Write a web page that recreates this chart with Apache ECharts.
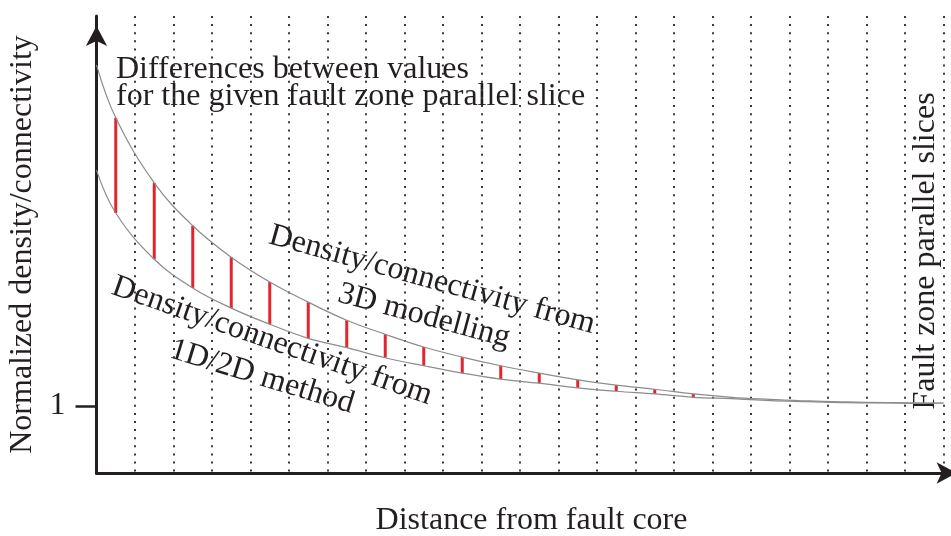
<!DOCTYPE html>
<html>
<head>
<meta charset="utf-8">
<title>Density/connectivity vs distance from fault core</title>
<script src="https://cdn.jsdelivr.net/npm/echarts@6.0.0/dist/echarts.min.js"></script>
<style>
  html, body { margin: 0; padding: 0; background: #fff; }
  #main { width: 951px; height: 536px; }
</style>
</head>
<body>
<div id="main"></div>
<script>
// distance from the fault core, in slice widths (red bars sit in the middle of each slice)
var distance = [0, 0.5, 1.5, 2.5, 3.5, 4.5, 5.5, 6.5, 7.5, 8.5, 9.5, 10.5,
  11.5, 12.5, 13.5, 14.5, 15.5, 16.5, 17.5, 18.5, 19.5, 20.5, 21.5, 22]
// normalized density/connectivity from 3D modelling
var density3D = [6.09, 5.30, 4.33, 3.69, 3.22, 2.85, 2.55, 2.28, 2.07, 1.88, 1.73, 1.60,
  1.49, 1.39, 1.31, 1.25, 1.18, 1.13, 1.10, 1.075, 1.06, 1.05, 1.045, 1.045]
// normalized density/connectivity from the 1D/2D method
var density1D2D = [4.52, 3.88, 3.19, 2.76, 2.46, 2.22, 2.01, 1.87, 1.72, 1.60, 1.49, 1.40,
  1.34, 1.27, 1.22, 1.18, 1.13, 1.11, 1.08, 1.065, 1.05, 1.045, 1.04, 1.045]
var yTickValues = [1]

var ink = "#231f20"
var serif = "Liberation Serif"

var gaps = []
for (var i = 0; i < distance.length; i++) {
  if (distance[i] % 1 !== 0) {
    gaps.push([distance[i], density1D2D[i], density3D[i]])
  }
}

var chartDom = document.getElementById("main")
var myChart = echarts.init(chartDom)
var option

option = {
  animation: false,
  grid: {
    left: 96.5,
    right: -15.6,
    top: 16,
    bottom: 63,
    outerBoundsMode: "none"
  },
  xAxis: {
    type: "value",
    min: 0,
    max: 22.6,
    interval: 1,
    name: "Distance from fault core",
    nameLocation: "middle",
    nameGap: 32,
    nameTextStyle: { fontFamily: serif, fontSize: 32, color: ink },
    axisLine: {
      onZero: false,
      symbol: ["none", "arrow"],
      symbolSize: [16, 20],
      symbolOffset: [0, -10],
      lineStyle: { color: ink, width: 3 }
    },
    axisTick: { show: false },
    axisLabel: { show: false },
    splitLine: {
      show: true,
      showMinLine: false,
      showMaxLine: false,
      lineStyle: { color: "#3a3a3a", width: 2, type: [2, 6.1] }
    }
  },
  yAxis: {
    type: "value",
    min: 0,
    max: 6.82,
    name: "Normalized density/connectivity",
    nameLocation: "middle",
    nameGap: 58,
    nameTextStyle: { fontFamily: serif, fontSize: 32, color: ink },
    axisLine: {
      show: true,
      onZero: false,
      symbol: ["none", "arrow"],
      symbolSize: [16, 20],
      symbolOffset: [0, -10],
      lineStyle: { color: ink, width: 3 }
    },
    axisTick: {
      show: true,
      customValues: yTickValues,
      length: 21,
      lineStyle: { color: ink, width: 2.5 }
    },
    axisLabel: {
      customValues: yTickValues,
      margin: 31,
      fontFamily: serif,
      fontSize: 32,
      color: ink
    },
    splitLine: { show: false }
  },
  graphic: [
    {
      type: "text",
      left: 116,
      top: 54,
      style: {
        text: "Differences between values\nfor the given fault zone parallel slice",
        font: "32px " + serif,
        lineHeight: 27,
        fill: ink
      }
    },
    {
      type: "text",
      x: 432, y: 280, rotation: -15.5 * Math.PI / 180,
      style: { text: "Density/connectivity from", font: "32px " + serif, fill: ink, align: "center", verticalAlign: "middle" }
    },
    {
      type: "text",
      x: 424, y: 316, rotation: -15 * Math.PI / 180,
      style: { text: "3D modelling", font: "32px " + serif, fill: ink, align: "center", verticalAlign: "middle" }
    },
    {
      type: "text",
      x: 272, y: 341, rotation: -19.2 * Math.PI / 180,
      style: { text: "Density/connectivity from", font: "32px " + serif, fill: ink, align: "center", verticalAlign: "middle" }
    },
    {
      type: "text",
      x: 262, y: 377, rotation: -17 * Math.PI / 180,
      style: { text: "1D/2D method", font: "32px " + serif, fill: ink, align: "center", verticalAlign: "middle" }
    },
    {
      type: "text",
      x: 926, y: 251, rotation: Math.PI / 2,
      style: { text: "Fault zone parallel slices", font: "32px " + serif, fill: ink, align: "center", verticalAlign: "middle" }
    }
  ],
  series: [
    {
      name: "Differences",
      type: "custom",
      data: gaps,
      z: 2,
      renderItem: function (params, api) {
        var p1 = api.coord([api.value(0), api.value(1)])
        var p2 = api.coord([api.value(0), api.value(2)])
        return {
          type: "line",
          shape: { x1: p1[0], y1: p1[1], x2: p2[0], y2: p2[1] },
          style: { stroke: "#e3262d", lineWidth: 3 }
        }
      }
    },
    {
      name: "3D modelling",
      type: "line",
      data: distance.map(function (d, i) { return [d, density3D[i]] }),
      smooth: 0.4,
      showSymbol: false,
      z: 3,
      lineStyle: { color: "#8c8c8c", width: 1.2 }
    },
    {
      name: "1D/2D method",
      type: "line",
      data: distance.map(function (d, i) { return [d, density1D2D[i]] }),
      smooth: 0.4,
      showSymbol: false,
      z: 3,
      lineStyle: { color: "#8c8c8c", width: 1.2 }
    }
  ]
}

option && myChart.setOption(option)
</script>
</body>
</html>
